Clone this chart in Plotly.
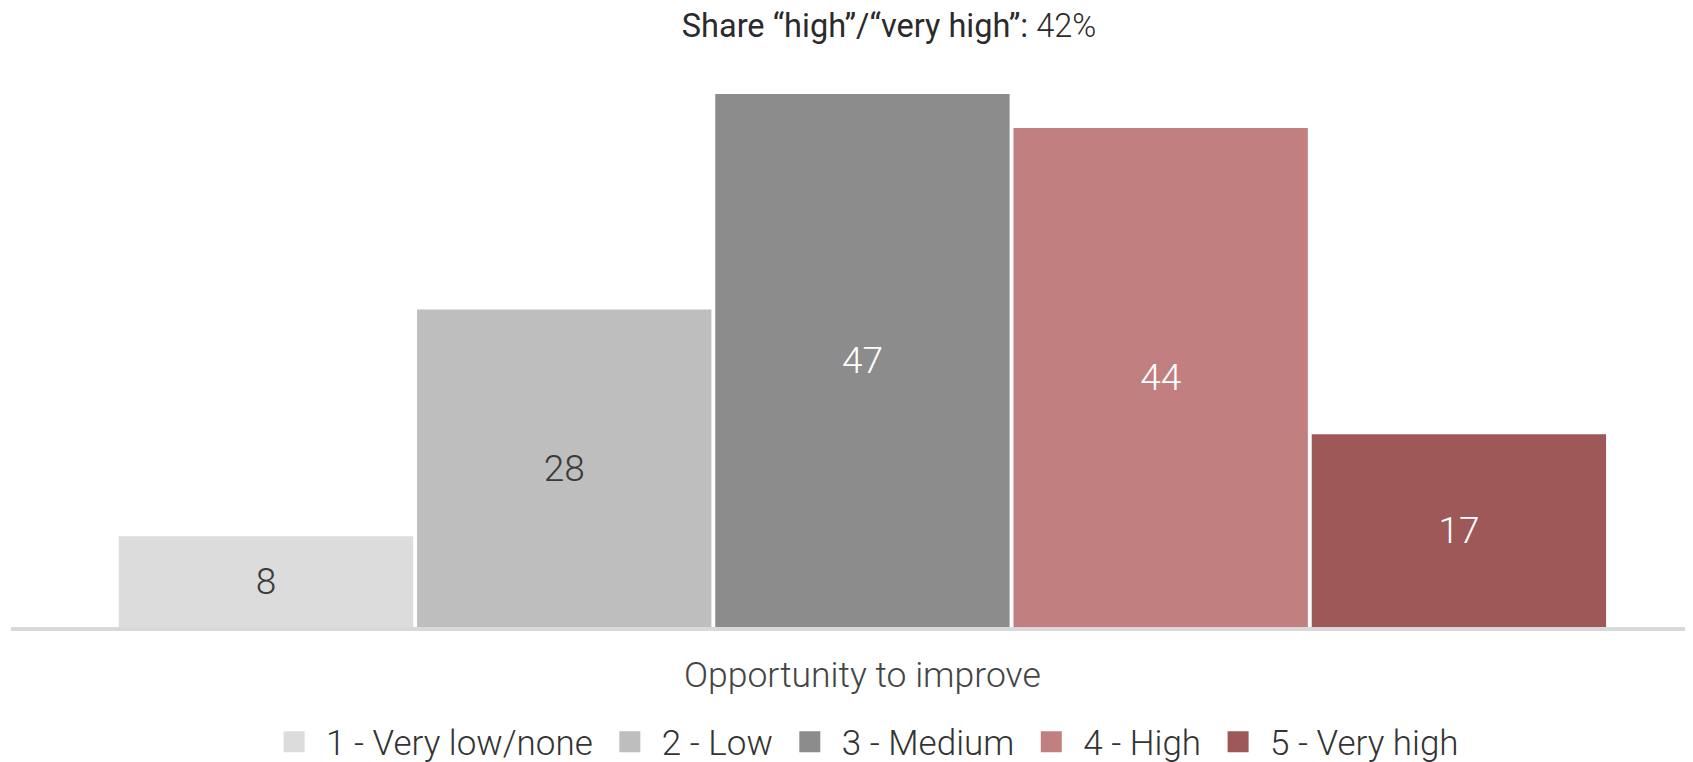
import plotly.graph_objects as go

# Survey answers, "Opportunity to improve" (count per answer)
categories = ["1 - Very low/none", "2 - Low", "3 - Medium", "4 - High", "5 - Very high"]
values = [8, 28, 47, 44, 17]
share_high = 42  # percent answering "high" or "very high"

BAR_COLORS = ["#dcdcdc", "#bebebe", "#8c8c8c", "#c17f7f", "#9e5858"]
LABEL_COLORS = ["#3a3a3a", "#3a3a3a", "#ffffff", "#ffffff", "#ffffff"]
FONT = "Roboto"
TEXT = "#333333"

fig = go.Figure()

fig.add_trace(go.Bar(
    x=categories, y=values,
    marker=dict(color=BAR_COLORS, line=dict(width=0)),
    text=[str(v) for v in values],
    textposition="inside", insidetextanchor="middle", textangle=0,
    textfont=dict(family=FONT, size=37, color=LABEL_COLORS, weight=300),
    constraintext="none",
    showlegend=False,
    hovertemplate="%{x}<br>%{y}<extra></extra>",
))

# Legend-only entries (square swatches)
for name, color in zip(categories, BAR_COLORS):
    fig.add_trace(go.Scatter(
        x=[None], y=[None], mode="markers", name=name,
        marker=dict(symbol="square", size=16, color=color,
                    line=dict(color=color, width=5)),
        hoverinfo="skip",
    ))

# axis title, centred under the middle category
fig.add_annotation(
    x=categories[2], xref="x", y=-0.0847, yref="paper",
    text="Opportunity to improve", showarrow=False,
    xanchor="center", yanchor="middle",
    font=dict(family=FONT, size=35.5, color="#444444", weight=300),
)

fig.update_layout(
    width=1685, height=770,
    margin=dict(l=3, r=0, t=52, b=151),
    paper_bgcolor="white", plot_bgcolor="white",
    font=dict(family=FONT, color=TEXT, weight=300),
    title=dict(
        text=f"<span style='font-weight:400'>Share “high”/“very high”:</span> {share_high}%",
        x=0.522, xref="paper", xanchor="center",
        y=0.977, yref="container", yanchor="middle",
        font=dict(family=FONT, size=32.5, color="#2b2b2b", weight=300),
    ),
    barmode="overlay",
    bargap=0.013,
    xaxis=dict(
        type="category", range=[-0.855, 4.785],
        showline=True, linecolor="#d9d9d9", linewidth=4,
        showticklabels=False, ticks="", showgrid=False, zeroline=False,
        fixedrange=True,
    ),
    yaxis=dict(
        range=[0, 50], visible=False, showgrid=False, zeroline=False,
        fixedrange=True,
    ),
    legend=dict(
        orientation="h", x=0.5066, xanchor="center",
        y=-0.2028, yanchor="middle",
        font=dict(family=FONT, size=35, color=TEXT, weight=300),
        itemwidth=54, traceorder="normal",
    ),
    showlegend=True,
)

fig.write_html("out.html")
